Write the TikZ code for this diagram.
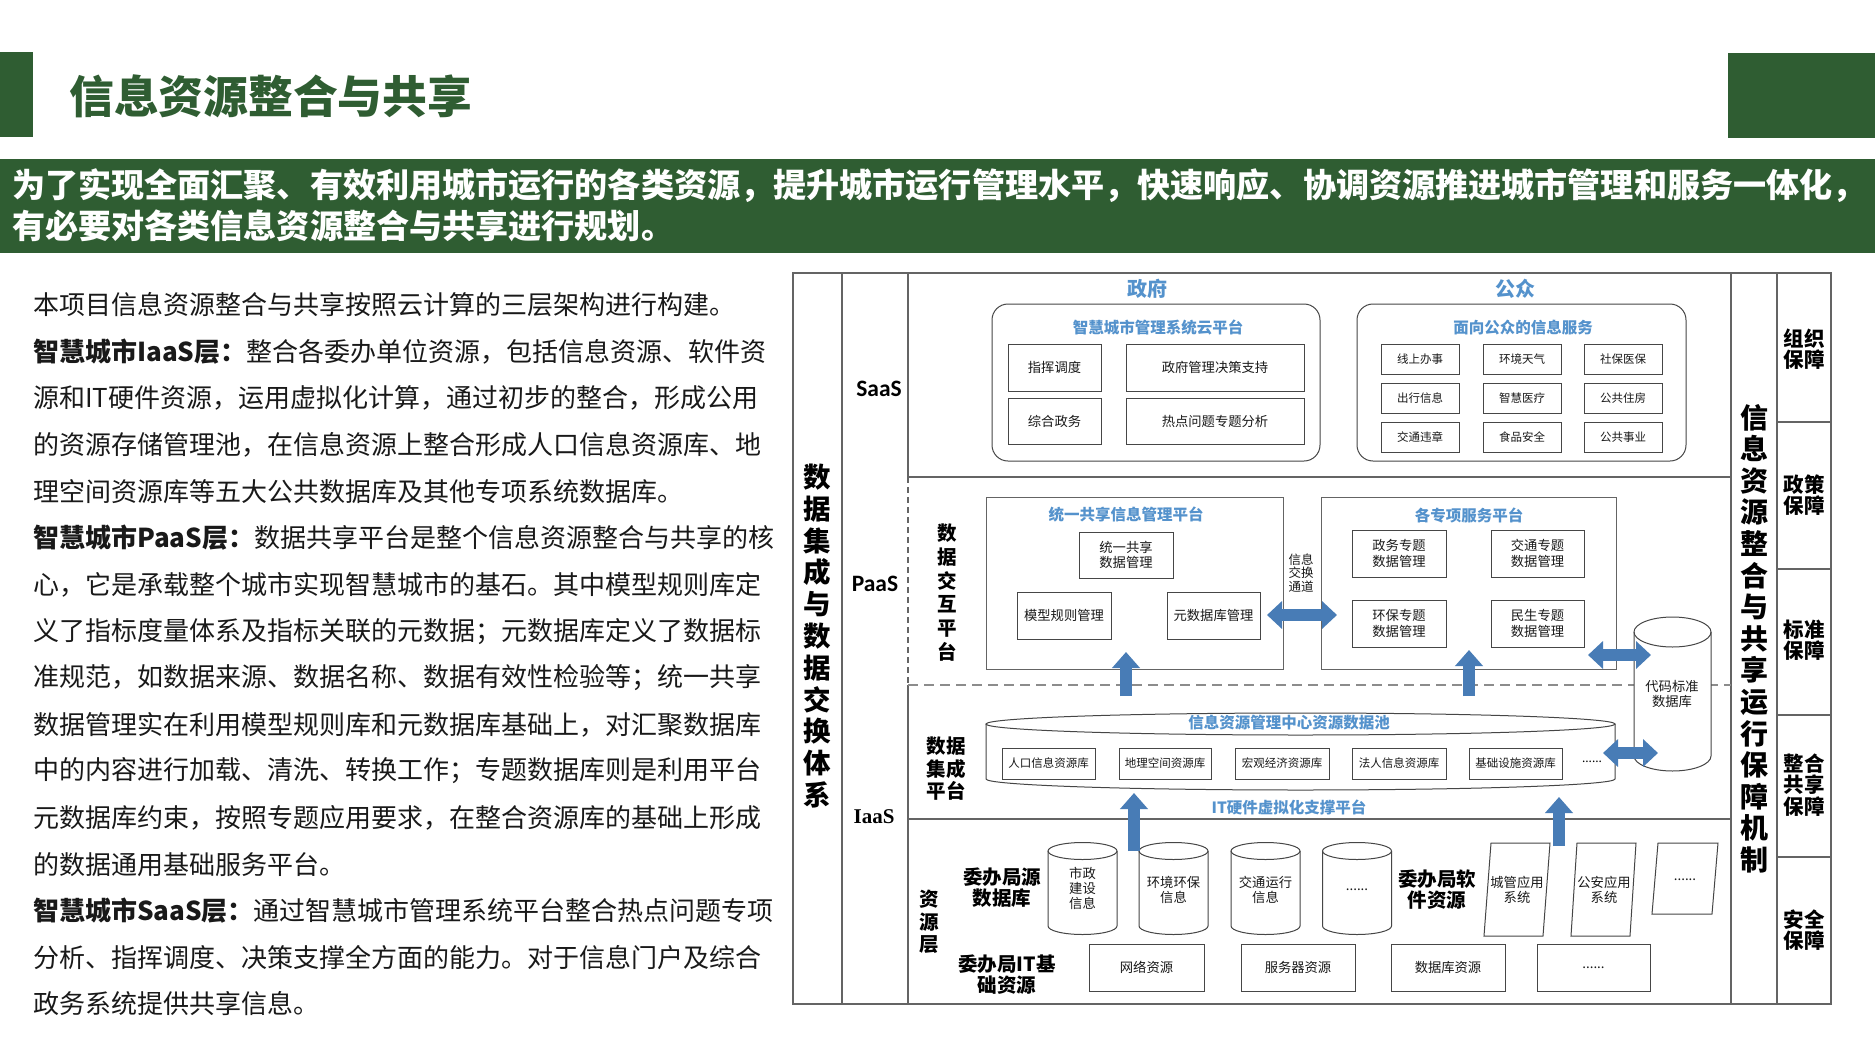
\documentclass[tikz,border=0pt]{standalone}
\usepackage{fontspec}
\setmainfont{Noto Sans CJK SC}
\newfontfamily\carl{Carlito}
\newfontfamily\lsr{Liberation Serif}
\usetikzlibrary{arrows.meta}
\definecolor{dkgreen}{RGB}{47,93,50}
\definecolor{ttlblue}{RGB}{84,146,204}
\definecolor{arrblue}{RGB}{72,124,182}
\definecolor{lgray}{RGB}{100,100,100}
\definecolor{dgray}{RGB}{140,140,140}
\definecolor{bgray}{RGB}{70,70,70}
\definecolor{txt}{RGB}{25,25,25}
\newcommand{\fs}[2]{\fontsize{#1}{#2}\selectfont}
\newcommand{\dbcyl}[5]{% cx, top cy, bottom cy, rx, ry
  \fill[white] ({#1-#4},#2) -- ({#1-#4},#3) arc[start angle=180,end angle=360,x radius=#4pt,y radius=#5pt] -- ({#1+#4},#2) -- cycle;
  \draw[cylline] ({#1-#4},#2) -- ({#1-#4},#3) arc[start angle=180,end angle=360,x radius=#4pt,y radius=#5pt] -- ({#1+#4},#2);
  \draw[cylline] (#1,#2) ellipse[x radius=#4pt, y radius=#5pt];
}
\tikzset{
  frame/.style={draw=lgray, line width=1.3pt},
  sbox/.style={draw=bgray, line width=1pt, inner sep=0pt, align=center, font=\fs{13.3}{15.5}, text=txt},
  pbox/.style={sbox, font=\fs{11.5}{13.5}},
  rbox/.style={draw=bgray, line width=1pt, rounded corners=16pt, inner sep=0pt},
  panel/.style={draw=lgray, line width=1pt, inner sep=0pt},
  btitle/.style={font=\bfseries\fs{15.5}{17}, text=ttlblue, inner sep=0pt},
  bhead/.style={font=\bfseries\fs{20}{22}, text=ttlblue, inner sep=0pt},
  blab/.style={font=\bfseries\fs{19.5}{21}, text=black, inner sep=0pt, align=center},
  small/.style={font=\fs{13.3}{15}, text=txt, inner sep=0pt, align=center},
  body/.style={anchor=west, inner sep=0pt, font=\fs{26}{30}, text=txt},
  glab/.style={font=\bfseries\fs{20.5}{21.5}, text=black, inner sep=0pt, align=center},
  cylline/.style={draw=bgray, line width=1pt},
  barrow/.style={draw=arrblue, line width=12pt, -{Triangle[width=27pt,length=16pt]}},
  darrow/.style={draw=arrblue, line width=12pt, {Triangle[width=27pt,length=15pt]}-{Triangle[width=27pt,length=15pt]}},
}
\begin{document}
\begin{tikzpicture}[x=1pt,y=-1pt]
\useasboundingbox (0,0) rectangle (1875,1055);
\fill[white] (0,0) rectangle (1875,1055);
% ---------- header ----------
\fill[dkgreen] (0,52) rectangle (33,137);
\fill[dkgreen] (1728,53) rectangle (1875,138);
\node[anchor=west, inner sep=0pt, font=\bfseries\fs{44.8}{50}, text=dkgreen] (title) at (69,96) {信息资源整合与共享};
\fill[dkgreen] (0,159) rectangle (1875,253);
\node[anchor=west, inner sep=0pt, font=\bfseries\fs{33.1}{38}, text=white] (ban1) at (12,186) {为了实现全面汇聚、有效利用城市运行的各类资源，提升城市运行管理水平，快速响应、协调资源推进城市管理和服务一体化，};
\node[anchor=west, inner sep=0pt, font=\bfseries\fs{33.1}{38}, text=white] (ban2) at (12,226) {有必要对各类信息资源整合与共享进行规划。};
% ---------- body text ----------
\node[body] (l1) at (33,305) {本项目信息资源整合与共享按照云计算的三层架构进行构建。};
\node[body] (l2) at (33,351.6) {\textbf{智慧城市IaaS层：}整合各委办单位资源，包括信息资源、软件资};
\node[body] (l3) at (33,398.2) {源和IT硬件资源，运用虚拟化计算，通过初步的整合，形成公用};
\node[body] (l4) at (33,444.8) {的资源存储管理池，在信息资源上整合形成人口信息资源库、地};
\node[body] (l5) at (33,491.4) {理空间资源库等五大公共数据库及其他专项系统数据库。};
\node[body] (l6) at (33,538) {\textbf{智慧城市PaaS层：}数据共享平台是整个信息资源整合与共享的核};
\node[body] (l7) at (33,584.6) {心，它是承载整个城市实现智慧城市的基石。其中模型规则库定};
\node[body] (l8) at (33,631.2) {义了指标度量体系及指标关联的元数据；元数据库定义了数据标};
\node[body] (l9) at (33,677.8) {准规范，如数据来源、数据名称、数据有效性检验等；统一共享};
\node[body] (l10) at (33,724.4) {数据管理实在利用模型规则库和元数据库基础上，对汇聚数据库};
\node[body] (l11) at (33,771) {中的内容进行加载、清洗、转换工作；专题数据库则是利用平台};
\node[body] (l12) at (33,817.6) {元数据库约束，按照专题应用要求，在整合资源库的基础上形成};
\node[body] (l13) at (33,864.2) {的数据通用基础服务平台。};
\node[body] (l14) at (33,910.8) {\textbf{智慧城市SaaS层：}通过智慧城市管理系统平台整合热点问题专项};
\node[body] (l15) at (33,957.4) {分析、指挥调度、决策支撑全方面的能力。对于信息门户及综合};
\node[body] (l16) at (33,1004) {政务系统提供共享信息。};
% ---------- diagram frame ----------
\draw[frame] (793,273) rectangle (1831,1004);
\draw[frame] (842,273) -- (842,1004);
\draw[frame] (908,273) -- (908,477);
\draw[frame, dash pattern=on 6pt off 4pt] (908,477) -- (908,685);
\draw[frame] (908,685) -- (908,1004);
\draw[frame] (1731,273) -- (1731,1004);
\draw[frame] (1777,273) -- (1777,1004);
\draw[frame] (908,477) -- (1731,477);
\draw[draw=dgray, line width=1.5pt, dash pattern=on 10pt off 6pt] (908,685) -- (1731,685);
\draw[frame] (908,819) -- (1731,819);
\draw[frame] (1777,422) -- (1831,422);
\draw[frame] (1777,569) -- (1831,569);
\draw[frame] (1777,715) -- (1831,715);
\draw[frame] (1777,857) -- (1831,857);
% left / right vertical labels
\node[font=\bfseries\fs{27.5}{31.8}, align=center, inner sep=0pt] (vleft) at (817,636) {数\\据\\集\\成\\与\\数\\据\\交\\换\\体\\系};
\node[font=\bfseries\fs{28}{31.6}, align=center, inner sep=0pt] (vright) at (1754,638.5) {信\\息\\资\\源\\整\\合\\与\\共\\享\\运\\行\\保\\障\\机\\制};
\node[glab] (g1) at (1804,349) {组织\\保障};
\node[glab] (g2) at (1804,495) {政策\\保障};
\node[glab] (g3) at (1804,640) {标准\\保障};
\node[glab] (g4) at (1804,785) {整合\\共享\\保障};
\node[glab] (g5) at (1804,930) {安全\\保障};
\node[inner sep=0pt, font=\carl\bfseries\fs{23.5}{26}] (saas) at (879,389) {SaaS};
\node[inner sep=0pt, font=\carl\bfseries\fs{23.5}{26}] (paas) at (875,584) {PaaS};
\node[inner sep=0pt, font=\lsr\bfseries\fs{21}{24}] (iaas) at (874,817) {IaaS};
% ---------- SaaS ----------
\node[bhead] (zf) at (1147,289) {政府};
\node[bhead] (gz) at (1515,289) {公众};
\node[rbox, minimum width=328pt, minimum height=157pt] (gov) at (1156,382.5) {};
\node[btitle] (govt) at (1158,328) {智慧城市管理系统云平台};
\node[sbox, minimum width=93pt, minimum height=47pt] (gz1) at (1054.5,367.5) {指挥调度};
\node[sbox, minimum width=178pt, minimum height=47pt] (gz2) at (1215,367.5) {政府管理决策支持};
\node[sbox, minimum width=93pt, minimum height=46pt] (gz3) at (1054.5,421) {综合政务};
\node[sbox, minimum width=178pt, minimum height=46pt] (gz4) at (1215,421) {热点问题专题分析};
\node[rbox, minimum width=329pt, minimum height=157pt] (pub) at (1521.5,382.5) {};
\node[btitle] (pubt) at (1523,328) {面向公众的信息服务};
\node[pbox, minimum width=78pt, minimum height=30pt] (p11) at (1420,359) {线上办事};
\node[pbox, minimum width=78pt, minimum height=30pt] (p12) at (1522,359) {环境天气};
\node[pbox, minimum width=78pt, minimum height=30pt] (p13) at (1623,359) {社保医保};
\node[pbox, minimum width=78pt, minimum height=30pt] (p21) at (1420,398) {出行信息};
\node[pbox, minimum width=78pt, minimum height=30pt] (p22) at (1522,398) {智慧医疗};
\node[pbox, minimum width=78pt, minimum height=30pt] (p23) at (1623,398) {公共住房};
\node[pbox, minimum width=78pt, minimum height=30pt] (p31) at (1420,437.5) {交通违章};
\node[pbox, minimum width=78pt, minimum height=30pt] (p32) at (1522,437.5) {食品安全};
\node[pbox, minimum width=78pt, minimum height=30pt] (p33) at (1623,437.5) {公共事业};
% ---------- PaaS ----------
\node[font=\bfseries\fs{19.5}{23.8}, align=center, inner sep=0pt] (jhpt) at (947,592.5) {数\\据\\交\\互\\平\\台};
\node[panel, minimum width=297pt, minimum height=172pt] (tyb) at (1134.5,583) {};
\node[btitle] (tybt) at (1126,515) {统一共享信息管理平台};
\node[sbox, minimum width=94pt, minimum height=46pt] (ty1) at (1126,555) {统一共享\\数据管理};
\node[sbox, minimum width=94pt, minimum height=47pt] (ty2) at (1064,615.5) {模型规则管理};
\node[sbox, minimum width=93pt, minimum height=47pt] (ty3) at (1213.5,615.5) {元数据库管理};
\node[font=\fs{12.5}{13.5}, align=center, inner sep=0pt, text=txt] (xxjh) at (1301,573) {信息\\交换\\通道};
\node[panel, minimum width=295pt, minimum height=172pt] (zxb) at (1468.5,583) {};
\node[btitle] (zxbt) at (1469,515) {各专项服务平台};
\node[sbox, minimum width=94pt, minimum height=47pt] (zx1) at (1399,553.5) {政务专题\\数据管理};
\node[sbox, minimum width=93pt, minimum height=47pt] (zx2) at (1537.5,553.5) {交通专题\\数据管理};
\node[sbox, minimum width=94pt, minimum height=47pt] (zx3) at (1399,623.5) {环保专题\\数据管理};
\node[sbox, minimum width=93pt, minimum height=47pt] (zx4) at (1537.5,623.5) {民生专题\\数据管理};
% code standard database cylinder
\dbcyl{1672.5}{632}{756}{38.5}{15}
\node[small] (code) at (1672,694) {代码标准\\数据库};
% ---------- IaaS ----------
\node[font=\bfseries\fs{19.5}{22.5}, align=center, inner sep=0pt] (jcpt) at (946,769) {数据\\集成\\平台};
\dbcyl{1300.5}{724}{779}{314.5}{11}
\node[btitle] (poolt) at (1289,723) {信息资源管理中心资源数据池};
\node[pbox, minimum width=93pt, minimum height=31pt] (pk1) at (1048.5,763.5) {人口信息资源库};
\node[pbox, minimum width=92pt, minimum height=31pt] (pk2) at (1165,763.5) {地理空间资源库};
\node[pbox, minimum width=94pt, minimum height=31pt] (pk3) at (1282,763.5) {宏观经济资源库};
\node[pbox, minimum width=94pt, minimum height=31pt] (pk4) at (1399,763.5) {法人信息资源库};
\node[pbox, minimum width=93pt, minimum height=31pt] (pk5) at (1515.5,763.5) {基础设施资源库};
\node[font=\fs{12}{13}, inner sep=0pt] (pk6) at (1592,762) {......};
\node[btitle] (itv) at (1289,807) {IT硬件虚拟化支撑平台};
% resource layer
\node[font=\bfseries\fs{19.5}{22.5}, align=center, inner sep=0pt] (zyc) at (929,922) {资\\源\\层};
\node[blab] (wbk) at (1002,888) {委办局源\\数据库};
\dbcyl{1082.5}{851}{926}{34.5}{8.5}
\dbcyl{1173.5}{851}{926}{34.5}{8.5}
\dbcyl{1265.5}{851}{926}{34.5}{8.5}
\dbcyl{1357}{851}{926}{34.5}{8.5}
\node[small] (c1) at (1082.5,888) {市政\\建设\\信息};
\node[small] (c2) at (1173.5,889.5) {环境环保\\信息};
\node[small] (c3) at (1265.5,889.5) {交通运行\\信息};
\node[small] (c4) at (1357,890) {......};
\node[blab] (wbr) at (1437,889.5) {委办局软\\件资源};
\draw[cylline] (1484,936) -- (1491,843) -- (1550,843) -- (1543,936) -- cycle;
\draw[cylline] (1571,936) -- (1577,843) -- (1636,843) -- (1630,936) -- cycle;
\draw[cylline] (1652,914) -- (1658,843) -- (1718,843) -- (1712,914) -- cycle;
\node[small] (s1) at (1517,889.5) {城管应用\\系统};
\node[small] (s2) at (1604,889.5) {公安应用\\系统};
\node[small] (s3) at (1685,880) {......};
\node[blab] (wbit) at (1007,975) {委办局IT基\\础资源};
\node[sbox, minimum width=115pt, minimum height=47pt] (r1) at (1146.5,967.5) {网络资源};
\node[sbox, minimum width=114pt, minimum height=47pt] (r2) at (1298,967.5) {服务器资源};
\node[sbox, minimum width=114pt, minimum height=47pt] (r3) at (1448,967.5) {数据库资源};
\node[sbox, minimum width=113pt, minimum height=47pt] (r4) at (1593.5,967.5) {......};
% ---------- block arrows ----------
\coordinate (a1s) at (1126,696); \coordinate (a1e) at (1126,652);
\coordinate (a2s) at (1469,696); \coordinate (a2e) at (1469,650);
\coordinate (a3s) at (1134,851); \coordinate (a3e) at (1134,793);
\coordinate (a4s) at (1559,846); \coordinate (a4e) at (1559,797);
\coordinate (d1a) at (1267,615); \coordinate (d1b) at (1337,615);
\coordinate (d2a) at (1588,655); \coordinate (d2b) at (1651,655);
\coordinate (d3a) at (1603,753); \coordinate (d3b) at (1658,753);
\draw[barrow] (a1s) -- (a1e);
\draw[barrow] (a2s) -- (a2e);
\draw[barrow] (a3s) -- (a3e);
\draw[barrow] (a4s) -- (a4e);
\draw[darrow] (d1a) -- (d1b);
\draw[darrow] (d2a) -- (d2b);
\draw[darrow] (d3a) -- (d3b);
\end{tikzpicture}
\end{document}
